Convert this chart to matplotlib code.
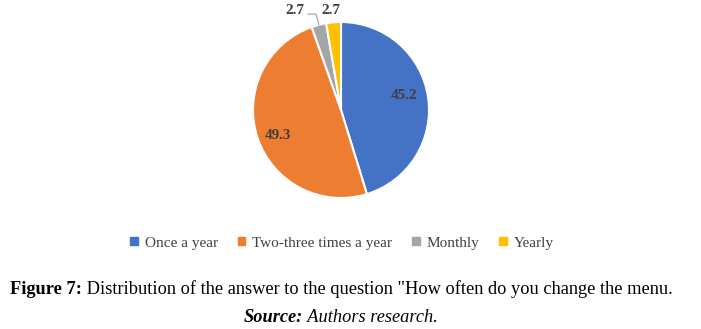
import numpy as np
import matplotlib
matplotlib.use("Agg")
import matplotlib.pyplot as plt
from matplotlib.patches import Rectangle

categories = ["Once a year", "Two-three times a year", "Monthly", "Yearly"]
values = [45.2, 49.3, 2.7, 2.7]
colors = ["#4472C4", "#ED7D31", "#A5A5A5", "#FFC000"]
value_labels = ["45.2", "49.3", "2.7", "2.7"]

plt.rcParams["font.family"] = ["Liberation Serif", "DejaVu Serif"]

W, H = 701, 329
fig = plt.figure(figsize=(W / 100, H / 100), dpi=100)
fig.patch.set_facecolor("white")

# pie axes, centred at (341,110) px with radius 88 px
cx, cy, r = 341, 110, 88
ax = fig.add_axes([(cx - r) / W, (H - cy - r) / H, 2 * r / W, 2 * r / H])
wedges, _ = ax.pie(values, colors=colors, startangle=90, counterclock=False,
                   wedgeprops=dict(edgecolor="white", linewidth=1.5))
ax.set_xlim(-1, 1)
ax.set_ylim(-1, 1)
ax.set_aspect("equal")
ax.axis("off")

label_color = "#404040"
label_fs = 11
# labels inside the two large slices
inside = [(0.72, 0.06), (0.755, -0.055)]
for i in range(2):
    w = wedges[i]
    mid = np.deg2rad((w.theta1 + w.theta2) / 2)
    rr, dy = inside[i]
    ax.text(rr * np.cos(mid), rr * np.sin(mid) + dy, value_labels[i],
            ha="center", va="center", fontsize=label_fs, fontweight="bold",
            color=label_color)

# small slices: labels above the pie, with a leader line for the grey one
gmid = np.deg2rad((wedges[2].theta1 + wedges[2].theta2) / 2)
ly = 1.125
ax.text(-0.52, ly, value_labels[2], ha="center", va="center", fontsize=label_fs,
        fontweight="bold", color=label_color, clip_on=False)
ax.text(-0.11, ly, value_labels[3], ha="center", va="center", fontsize=label_fs,
        fontweight="bold", color=label_color, clip_on=False)
gx, gy = np.cos(gmid), np.sin(gmid)
ax.plot([gx, gx - 0.03, -0.375], [gy, 1.09, 1.09], color="#A0A0A0", lw=0.8,
        clip_on=False)

# legend
fig.legend([Rectangle((0, 0), 1, 1, color=c) for c in colors], categories,
           loc="center", bbox_to_anchor=(342 / W, 1 - 243 / H), ncol=4,
           frameon=False, fontsize=11, handlelength=0.5, handleheight=0.5,
           handletextpad=0.45, columnspacing=1.3, labelcolor="#404040")

# caption lines with mixed styles
renderer = fig.canvas.get_renderer()

def mixed_line(parts, y, fontsize):
    texts = [fig.text(0, y, s, fontsize=fontsize, va="center", ha="left", **kw)
             for s, kw in parts]
    widths = [t.get_window_extent(renderer).width for t in texts]
    x = 341 - sum(widths) / 2
    for t, wd in zip(texts, widths):
        t.set_x(x / W)
        x += wd

mixed_line([("Figure 7:", dict(fontweight="bold")),
            (" Distribution of the answer to the question \"How often do you change the menu.", {})],
           1 - 289 / H, 13.2)
mixed_line([("Source:", dict(fontweight="bold", style="italic")),
            (" Authors research.", dict(style="italic"))],
           1 - 318 / H, 13.2)

fig.savefig("out.png", dpi=100)
